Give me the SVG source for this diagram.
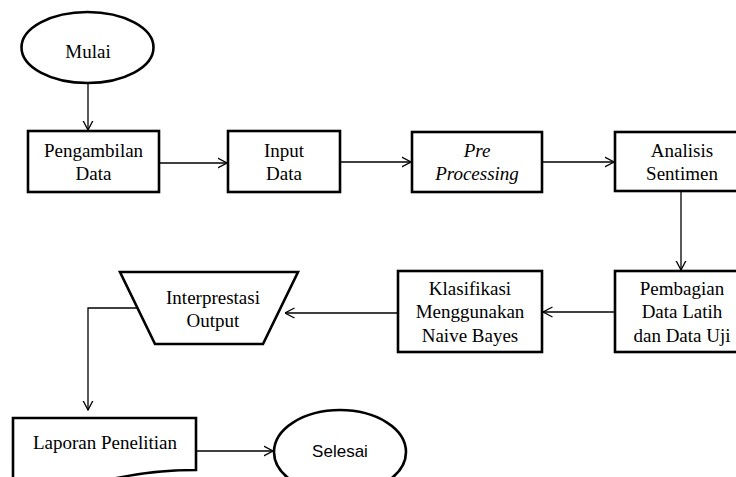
<svg xmlns="http://www.w3.org/2000/svg" width="736" height="477" viewBox="0 0 736 477">
<style>
.box{fill:#fff;stroke:#000;stroke-width:2.6}
.t{font-family:"Liberation Serif","Times New Roman",serif;font-size:19px;fill:#000;text-anchor:middle}
.s{font-family:"Liberation Sans",Arial,sans-serif;font-size:17px;fill:#000;text-anchor:middle}
.c{fill:none;stroke:#000;stroke-width:1.3}
</style>
<defs>
<marker id="ah" markerUnits="userSpaceOnUse" viewBox="0 0 10 12" refX="9.5" refY="6" markerWidth="10" markerHeight="12" orient="auto">
<path d="M0,1 L9.5,6 L0,11" fill="none" stroke="#000" stroke-width="1.3"/>
</marker>
</defs>
<rect width="736" height="477" fill="#fff"/>
<g id="connectors">
<path class="c" d="M88,83 V130" marker-end="url(#ah)"/>
<path class="c" d="M159,163 H227" marker-end="url(#ah)"/>
<path class="c" d="M340,162 H411" marker-end="url(#ah)"/>
<path class="c" d="M542,162 H614" marker-end="url(#ah)"/>
<path class="c" d="M681,192 V270" marker-end="url(#ah)"/>
<path class="c" d="M615,312 H543" marker-end="url(#ah)"/>
<path class="c" d="M398,313 H285" marker-end="url(#ah)"/>
<path class="c" d="M137,308 H88 V410" marker-end="url(#ah)"/>
<path class="c" d="M196,451 H273" marker-end="url(#ah)"/>
</g>
<g id="mulai">
<ellipse class="box" cx="87.5" cy="47.5" rx="66" ry="35.5"/>
<text class="t" x="88" y="58">Mulai</text>
</g>
<g id="pengambilan">
<rect class="box" x="28" y="131" width="131" height="61"/>
<text class="t" x="93.5" y="157">Pengambilan</text>
<text class="t" x="93.5" y="180">Data</text>
</g>
<g id="input">
<rect class="box" x="228" y="131" width="112" height="61"/>
<text class="t" x="284" y="157">Input</text>
<text class="t" x="284" y="180">Data</text>
</g>
<g id="preprocessing">
<rect class="box" x="412" y="132" width="130" height="60"/>
<text class="t" x="477" y="157" font-style="italic">Pre</text>
<text class="t" x="477" y="180" font-style="italic">Processing</text>
</g>
<g id="analisis">
<rect class="box" x="615" y="132" width="134" height="59"/>
<text class="t" x="682" y="157">Analisis</text>
<text class="t" x="682" y="180">Sentimen</text>
</g>
<g id="pembagian">
<rect class="box" x="615" y="271" width="134" height="81"/>
<text class="t" x="682" y="295">Pembagian</text>
<text class="t" x="682" y="318">Data Latih</text>
<text class="t" x="682" y="342">dan Data Uji</text>
</g>
<g id="klasifikasi">
<rect class="box" x="398" y="271" width="144" height="81"/>
<text class="t" x="470" y="295">Klasifikasi</text>
<text class="t" x="470" y="318">Menggunakan</text>
<text class="t" x="470" y="342">Naive Bayes</text>
</g>
<g id="interprestasi">
<polygon class="box" points="120,272 298,272 263,344 155,344"/>
<text class="t" x="213" y="304">Interprestasi</text>
<text class="t" x="213" y="327">Output</text>
</g>
<g id="laporan">
<path class="box" d="M13,480 V418 H196 V470 C160,470 130,474 100,482"/>
<text class="t" x="105" y="449">Laporan Penelitian</text>
</g>
<g id="selesai">
<ellipse class="box" cx="340" cy="452" rx="66" ry="42"/>
<text class="s" x="340" y="457">Selesai</text>
</g>
</svg>
